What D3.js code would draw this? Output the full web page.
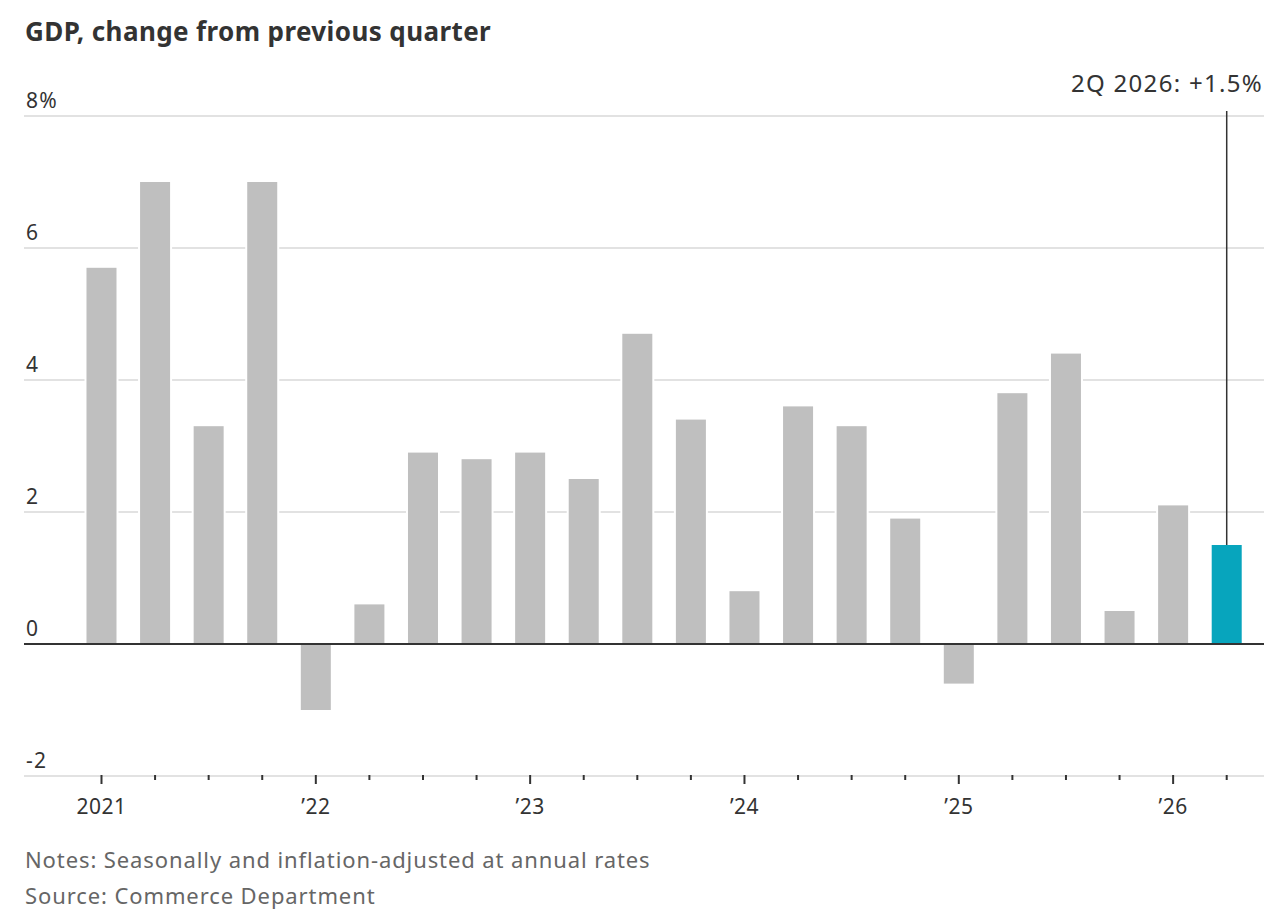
<!DOCTYPE html>
<html>
<head>
<meta charset="utf-8">
<script src="https://cdn.jsdelivr.net/npm/d3@7"></script>
<style>
  html, body { margin: 0; padding: 0; background: #fff; }
  svg { display: block; font-family: "Noto Sans", "DejaVu Sans", sans-serif; }
</style>
</head>
<body>
<svg id="chart" width="1280" height="922"></svg>
<script>
// ---- data ----
const quarters = [
  "1Q21","2Q21","3Q21","4Q21",
  "1Q22","2Q22","3Q22","4Q22",
  "1Q23","2Q23","3Q23","4Q23",
  "1Q24","2Q24","3Q24","4Q24",
  "1Q25","2Q25","3Q25","4Q25",
  "1Q26","2Q26"
];
const gdpChange = [
  5.7, 7.0, 3.3, 7.0,
  -1.0, 0.6, 2.9, 2.8,
  2.9, 2.5, 4.7, 3.4,
  0.8, 3.6, 3.3, 1.9,
  -0.6, 3.8, 4.4, 0.5,
  2.1, 1.5
];
const yearLabels = ["2021", "\u201922", "\u201923", "\u201924", "\u201925", "\u201926"];
const yTicks = [-2, 0, 2, 4, 6, 8];
const highlightLabel = "2Q 2026: +1.5%";
const title = "GDP, change from previous quarter";
const notes = "Notes: Seasonally and inflation-adjusted at annual rates";
const source = "Source: Commerce Department";

// ---- layout ----
const svg = d3.select("#chart");
const gridLeft = 24, gridRight = 1264;

const x = d3.scaleBand()
  .domain(quarters)
  .range([74.7, 1253.5])
  .paddingInner(0.44)
  .paddingOuter(0.22);

const y = d3.scaleLinear().domain([-2, 8]).range([776, 116]);

// title
svg.append("text")
  .attr("x", 25).attr("y", 41)
  .attr("font-size", 26).attr("font-weight", 700)
  .attr("letter-spacing", 0.4)
  .attr("fill", "#333")
  .text(title);

// gridlines
svg.append("g").selectAll("line")
  .data(yTicks.filter(d => d !== 0))
  .join("line")
  .attr("x1", gridLeft).attr("x2", gridRight)
  .attr("y1", d => y(d)).attr("y2", d => y(d))
  .attr("stroke", "#e2e2e2").attr("stroke-width", 2);

// y labels
svg.append("g").selectAll("text")
  .data(yTicks)
  .join("text")
  .attr("x", 26)
  .attr("y", d => y(d) - 8)
  .attr("font-size", 21)
  .attr("letter-spacing", 1.2)
  .attr("fill", "#333")
  .text(d => d === 8 ? d + "%" : d);

// x axis ticks
const xAxis = d3.axisBottom(x)
  .tickSize(0)
  .tickFormat((d, i) => i % 4 === 0 ? yearLabels[i / 4] : "");
const gx = svg.append("g")
  .attr("transform", `translate(0,${y(-2)})`)
  .call(xAxis);
gx.select(".domain").remove();
gx.selectAll(".tick line")
  .attr("y1", -1)
  .attr("y2", (d, i) => i % 4 === 0 ? 8 : 4)
  .attr("stroke", "#333")
  .attr("stroke-width", 2);
gx.selectAll(".tick text")
  .attr("y", 38).attr("dy", 0)
  .attr("font-size", 21)
  .attr("letter-spacing", 0.5)
  .attr("font-family", "'Noto Sans', sans-serif")
  .attr("fill", "#333");

// bars
const lastIdx = gdpChange.length - 1;
svg.append("g").selectAll("rect")
  .data(gdpChange)
  .join("rect")
  .attr("x", (d, i) => x(quarters[i]))
  .attr("width", x.bandwidth())
  .attr("y", d => y(Math.max(0, d)))
  .attr("height", d => Math.abs(y(d) - y(0)))
  .attr("fill", (d, i) => i === lastIdx ? "#07a5bd" : "#bfbfbf")
  .attr("stroke", "#fff")
  .attr("stroke-width", 4)
  .attr("paint-order", "stroke");

// zero line
svg.append("line")
  .attr("x1", gridLeft).attr("x2", gridRight)
  .attr("y1", y(0)).attr("y2", y(0))
  .attr("stroke", "#333").attr("stroke-width", 2);

// annotation
const lx = x(quarters[lastIdx]) + x.bandwidth() / 2;
svg.append("line")
  .attr("x1", lx).attr("x2", lx)
  .attr("y1", 111).attr("y2", y(gdpChange[lastIdx]))
  .attr("stroke", "#333").attr("stroke-width", 1.5);
svg.append("text")
  .attr("x", 1263).attr("y", 92)
  .attr("text-anchor", "end")
  .attr("font-size", 24)
  .attr("letter-spacing", 1.3)
  .attr("fill", "#333")
  .text(highlightLabel);

// notes
svg.append("text")
  .attr("x", 25).attr("y", 868)
  .attr("font-size", 22).attr("letter-spacing", 0.9).attr("fill", "#666")
  .text(notes);
svg.append("text")
  .attr("x", 25).attr("y", 904)
  .attr("font-size", 22).attr("letter-spacing", 0.9).attr("fill", "#666")
  .text(source);
</script>
</body>
</html>
